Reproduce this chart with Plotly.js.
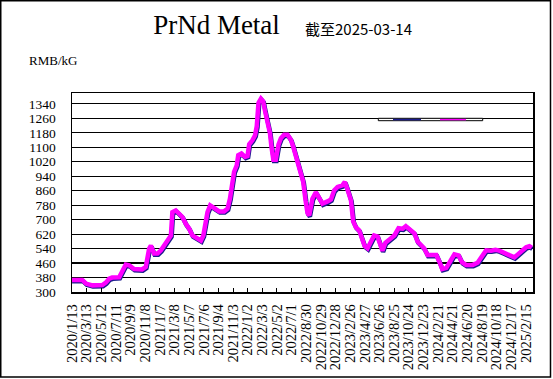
<!DOCTYPE html>
<html>
<head>
<meta charset="utf-8">
<script src="https://cdn.plot.ly/plotly-3.0.1.min.js"></script>
<style>html,body{margin:0;padding:0;background:#fff;}#chart{width:553px;height:379px;}</style>
</head>
<body>
<div id="chart"></div>
<script>
// ---- data ----
const dates = [
"2020-01-13","2020-02-27","2020-03-13","2020-04-08","2020-05-19","2020-06-02","2020-06-16","2020-06-28",
"2020-07-27","2020-08-09","2020-08-23","2020-09-06","2020-09-26","2020-10-29","2020-11-13","2020-11-27",
"2020-12-04","2020-12-17","2020-12-31","2021-01-14","2021-01-27","2021-02-10","2021-02-24","2021-03-02",
"2021-03-16","2021-03-30","2021-04-12","2021-04-26","2021-05-10","2021-05-23","2021-06-13","2021-06-27",
"2021-07-07","2021-07-17","2021-07-24","2021-08-04","2021-08-20","2021-09-10","2021-09-30","2021-10-14",
"2021-10-24","2021-11-03","2021-11-10","2021-11-21","2021-11-27","2021-12-10","2021-12-25","2022-01-04",
"2022-01-11","2022-01-24","2022-02-04","2022-02-11","2022-02-18","2022-02-28","2022-03-09","2022-03-17",
"2022-03-27","2022-04-06","2022-04-12","2022-04-20","2022-04-30","2022-05-11","2022-05-21","2022-06-03",
"2022-06-17","2022-07-01","2022-07-10","2022-07-21","2022-08-01","2022-08-11","2022-08-20","2022-08-30",
"2022-09-07","2022-09-14","2022-09-27","2022-10-11","2022-10-25","2022-11-07","2022-11-28","2022-12-12",
"2022-12-25","2023-01-08","2023-01-28","2023-02-07","2023-02-18","2023-03-04","2023-03-13","2023-03-24",
"2023-04-07","2023-04-18","2023-04-29","2023-05-11","2023-05-24","2023-06-07","2023-06-21","2023-07-01",
"2023-07-11","2023-07-23","2023-08-08","2023-08-29","2023-09-15","2023-10-02","2023-10-15","2023-10-29",
"2023-11-19","2023-12-02","2023-12-16","2023-12-29","2024-01-12","2024-02-17","2024-02-29","2024-03-12",
"2024-03-29","2024-04-13","2024-05-01","2024-05-18","2024-06-01","2024-06-18","2024-07-15","2024-08-04",
"2024-08-18","2024-09-08","2024-09-28","2024-10-16","2024-11-01","2024-11-22","2024-12-12","2025-01-02",
"2025-01-19","2025-02-05","2025-02-19","2025-03-04","2025-03-14"
];
const prices = [
360,360,340,330,332,345,367,373,
375,404,445,441,420,418,432,534,
550,506,506,524,552,578,606,735,
744,726,708,670,643,606,587,578,
606,670,735,772,758,739,739,754,
809,883,958,994,1050,1059,1040,1045,
1110,1132,1160,1210,1339,1362,1348,1293,
1228,1172,1098,1024,1024,1108,1144,1163,
1163,1135,1098,1043,987,950,904,800,
730,717,809,845,809,782,794,805,
855,874,883,902,860,800,685,652,
633,587,548,535,569,606,600,550,
522,565,585,606,646,643,657,640,
618,572,552,535,498,498,462,420,
427,467,502,496,458,443,443,455,
485,524,522,527,522,512,497,485,
504,522,541,547,538
];
const titleText = "PrNd Metal";
const dateNote = "截至2025-03-14";
const unitText = "RMB/kG";
const xStart = "2020-01-12 18:00", xEnd = "2025-03-16 10:00";
const yMin = 300, yMax = 1400, yStep = 80;
const tickStart = "2020-01-13", tickDays = 60;

// ---- layout geometry ----
const W = 553, H = 379;
const M = {l: 72, r: 20, t: 93, b: 87};
const pw = W - M.l - M.r, ph = H - M.t - M.b;
const px = v => (v - M.l) / pw;
const py = v => (H - M.b - v) / ph;

const DAY = 86400000;
const toMs = d => Date.parse(d.replace(' ', 'T') + (d.length > 10 ? ':00Z' : 'T00:00:00Z'));
const spanDays = (toMs(xEnd) - toMs(xStart)) / DAY;
// magenta drawn on overlay axes, nudged ~1px up-left so the navy series shows as a shadow below it
const shiftDays = 0.7 / pw * spanDays;
const shiftY = 1.2 / ph * (yMax - yMin);
const sx = d => new Date(toMs(d) + shiftDays * DAY).toISOString().slice(0, 19).replace('T', ' ');

const traces = [
  {x: dates, y: prices, type: 'scatter', mode: 'lines',
   line: {color: '#1a1a8c', width: 4.5}, hoverinfo: 'skip', showlegend: false},
  {x: dates, y: prices, type: 'scatter', mode: 'lines', xaxis: 'x2', yaxis: 'y2',
   line: {color: '#ff00ff', width: 4.5}, showlegend: false}
];

const serif = "Liberation Serif, Times New Roman, serif";
const layout = {
  width: W, height: H,
  margin: M,
  paper_bgcolor: '#fff', plot_bgcolor: '#fff',
  showlegend: false,
  title: {text: titleText, x: 216.5 / W, xanchor: 'center', xref: 'container',
          y: 1 - 25 / H, yanchor: 'middle', yref: 'container',
          font: {family: serif, size: 27, color: '#000'}},
  xaxis: {type: 'date', range: [xStart, xEnd], tick0: tickStart, dtick: tickDays * DAY,
          tickformat: '%Y/%-m/%-d', tickangle: -90, ticks: 'inside', ticklen: 4, tickcolor: '#000',
          showgrid: false, zeroline: false, showline: true, mirror: true, linecolor: '#000', linewidth: 1.5,
          tickfont: {family: serif, size: 14.5, color: '#000'}, ticklabelstandoff: 5},
  yaxis: {range: [yMin, yMax], tick0: yMin, dtick: yStep, ticks: '', showgrid: true, gridcolor: '#000',
          gridwidth: 1.2, zeroline: false, showline: true, mirror: true, linecolor: '#000', linewidth: 1.5,
          tickfont: {family: serif, size: 13.5, color: '#000'}, ticklabelstandoff: 12},
  xaxis2: {type: 'date', overlaying: 'x', range: [sx(xStart), sx(xEnd)], visible: false},
  yaxis2: {overlaying: 'y', range: [yMin - shiftY, yMax - shiftY], visible: false},
  annotations: [
    {text: dateNote, xref: 'paper', yref: 'paper', x: px(358.5), y: py(28.5), xanchor: 'center', yanchor: 'middle',
     showarrow: false, font: {family: "Noto Sans CJK SC, sans-serif", size: 15, color: '#000'}},
    {text: unitText, xref: 'paper', yref: 'paper', x: px(27), y: py(60), xanchor: 'left', yanchor: 'middle',
     showarrow: false, font: {family: serif, size: 13, color: '#000'}}
  ],
  shapes: [
    {type: 'rect', xref: 'paper', yref: 'paper', x0: px(378.3), x1: px(482.7), y0: py(118.3), y1: py(120.7),
     line: {color: '#000', width: 1}, fillcolor: '#fff'},
    {type: 'line', xref: 'paper', yref: 'paper', x0: px(393), x1: px(421), y0: py(119.6), y1: py(119.6),
     line: {color: '#1a1a8c', width: 1.5}},
    {type: 'line', xref: 'paper', yref: 'paper', x0: px(440), x1: px(466), y0: py(119.6), y1: py(119.6),
     line: {color: '#ff00ff', width: 1.5}},
    {type: 'rect', xref: 'paper', yref: 'paper', x0: px(0.75), x1: px(550.5), y0: py(0.75), y1: py(377),
     line: {color: '#000', width: 1.5}, fillcolor: 'rgba(0,0,0,0)'}
  ]
};

Plotly.newPlot('chart', traces, layout, {staticPlot: true, displayModeBar: false});
</script>
</body>
</html>
